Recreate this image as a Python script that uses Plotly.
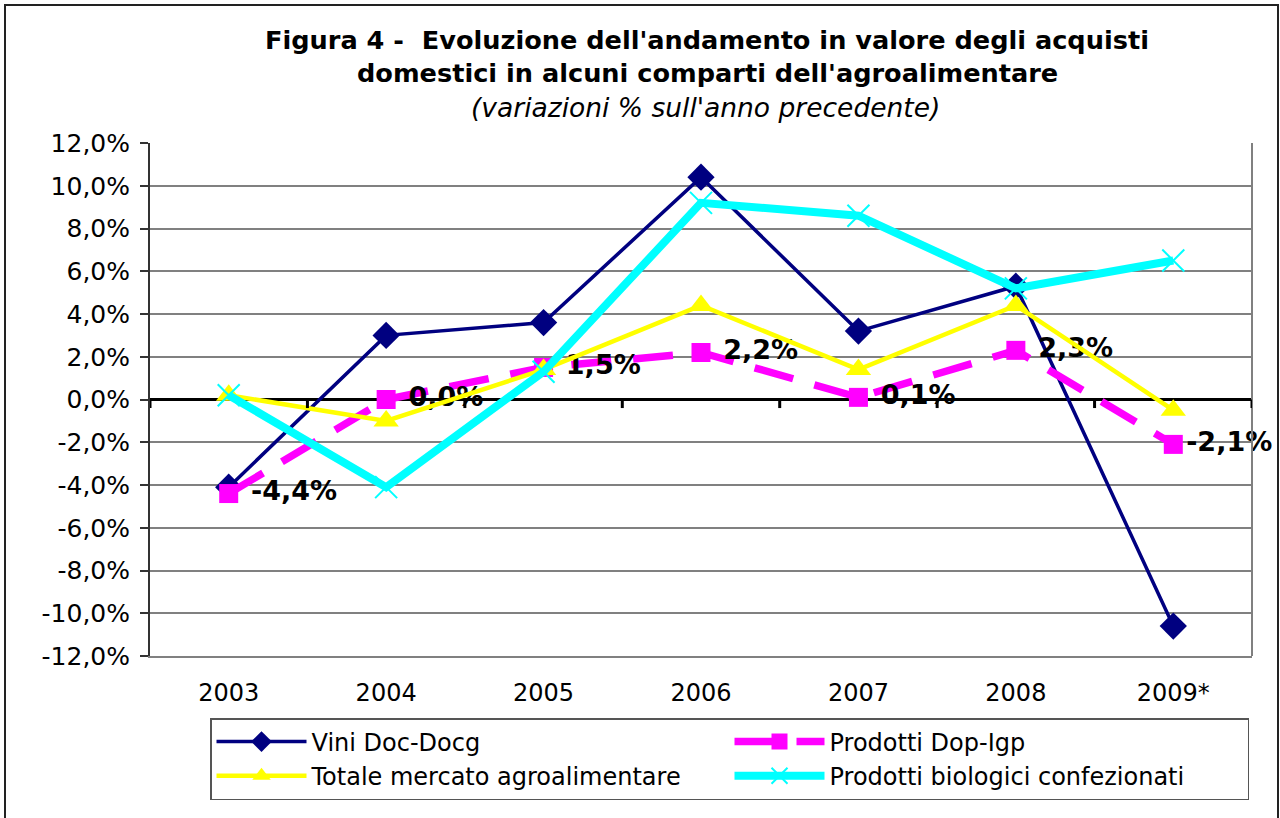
import plotly.graph_objects as go

years = ["2003", "2004", "2005", "2006", "2007", "2008", "2009*"]
vini = [-4.1, 3.0, 3.6, 10.4, 3.2, 5.3, -10.6]
dop_igp = [-4.4, 0.0, 1.5, 2.2, 0.1, 2.3, -2.1]
totale = [0.2, -1.0, 1.4, 4.4, 1.4, 4.4, -0.5]
biologici = [0.2, -4.1, 1.3, 9.2, 8.6, 5.2, 6.5]
y_ticks = [-12, -10, -8, -6, -4, -2, 0, 2, 4, 6, 8, 10, 12]
y_tick_labels = [f"{v:.1f}%".replace(".", ",") for v in y_ticks]

FONT = "DejaVu Sans"

fig = go.Figure()
fig.add_trace(go.Scatter(
    x=years, y=vini, name="Vini Doc-Docg", mode="lines+markers",
    line=dict(color="#000080", width=3.5),
    marker=dict(symbol="diamond", size=21, color="#000080"),
))
label_tpl = [" %{y:.1f}%"] * (len(years) - 1) + ["%{y:.1f}%"]
fig.add_trace(go.Scatter(
    x=years, y=dop_igp, name="Prodotti Dop-Igp", mode="lines+markers+text",
    line=dict(color="#FF00FF", width=7.5, dash="40px,22px"),
    marker=dict(symbol="square", size=19, color="#FF00FF"),
    texttemplate=label_tpl, textposition="middle right",
    textfont=dict(family=FONT, size=27, color="black", weight="bold"),
    cliponaxis=False,
))
fig.add_trace(go.Scatter(
    x=years, y=totale, name="Totale mercato agroalimentare", mode="lines+markers",
    line=dict(color="#FFFF00", width=4.5),
    marker=dict(symbol="triangle-up", size=22, color="#FFFF00"),
))
fig.add_trace(go.Scatter(
    x=years, y=biologici, name="Prodotti biologici confezionati", mode="lines+markers",
    line=dict(color="#00FFFF", width=8),
    marker=dict(symbol="x-thin", size=22, color="#00FFFF",
                line=dict(color="#00FFFF", width=2)),
))

L, R, T, B = 150, 28, 143, 162
W, H = 1280, 818
pw, ph = W - L - R, H - T - B

def px_x(p):
    return (p - L) / pw

def px_y(p):
    return (H - B - p) / ph

shapes = [
    # outer frame
    dict(type="rect", xref="paper", yref="paper",
         x0=px_x(5), x1=px_x(1278), y0=px_y(830), y1=px_y(5),
         line=dict(color="#222222", width=2), layer="below"),
    # right plot border
    dict(type="line", xref="paper", yref="paper", x0=1, x1=1, y0=0, y1=1,
         line=dict(color="#808080", width=2)),
]
# tick marks on the zero line at category boundaries
for i in range(len(years) + 1):
    shapes.append(dict(type="line", xref="x", yref="y",
                       x0=i - 0.5, x1=i - 0.5, y0=0, y1=-0.4,
                       line=dict(color="black", width=3)))

annotations = [
    dict(text="<b>Figura 4 -  Evoluzione dell'andamento in valore degli acquisti</b>",
         xref="paper", yref="paper", x=px_x(707), y=px_y(40),
         xanchor="center", yanchor="middle", showarrow=False,
         font=dict(family=FONT, size=25.6, color="black")),
    dict(text="<b>domestici in alcuni comparti dell'agroalimentare</b>",
         xref="paper", yref="paper", x=px_x(707), y=px_y(73),
         xanchor="center", yanchor="middle", showarrow=False,
         font=dict(family=FONT, size=25.6, color="black")),
    dict(text="<i>(variazioni % sull'anno precedente)</i>",
         xref="paper", yref="paper", x=px_x(705), y=px_y(107),
         xanchor="center", yanchor="middle", showarrow=False,
         font=dict(family=FONT, size=26.5, color="black")),
]

fig.update_layout(
    width=W, height=H,
    margin=dict(l=L, r=R, t=T, b=B, autoexpand=False),
    paper_bgcolor="white", plot_bgcolor="white",
    separators=",.",
    font=dict(family=FONT, size=24, color="black"),
    showlegend=True,
    legend=dict(orientation="h", x=px_x(210), y=px_y(718),
                xanchor="left", yanchor="top",
                bordercolor="#555555", borderwidth=1.5,
                entrywidth=413, entrywidthmode="pixels",
                itemwidth=90, tracegroupgap=0,
                font=dict(family=FONT, size=24, color="black")),
    shapes=shapes,
    annotations=annotations,
)
fig.update_xaxes(
    type="category", range=[-0.5, len(years) - 0.5],
    showgrid=False, showline=True, linecolor="#808080", linewidth=2,
    ticks="", ticklabelstandoff=14,
    tickfont=dict(family=FONT, size=24, color="black"),
)
fig.update_yaxes(
    range=[-12, 12], tickmode="array", tickvals=y_ticks, ticktext=y_tick_labels,
    showgrid=True, gridcolor="#808080", gridwidth=2,
    zeroline=True, zerolinecolor="black", zerolinewidth=3,
    showline=True, linecolor="#333333", linewidth=2,
    ticks="outside", ticklen=8, tickcolor="#333333", tickwidth=2,
    ticklabelstandoff=5,
    tickfont=dict(family=FONT, size=25, color="black"),
)

fig.write_html("out.html", config={"displayModeBar": False},
               post_script="document.body.style.margin='0';")
